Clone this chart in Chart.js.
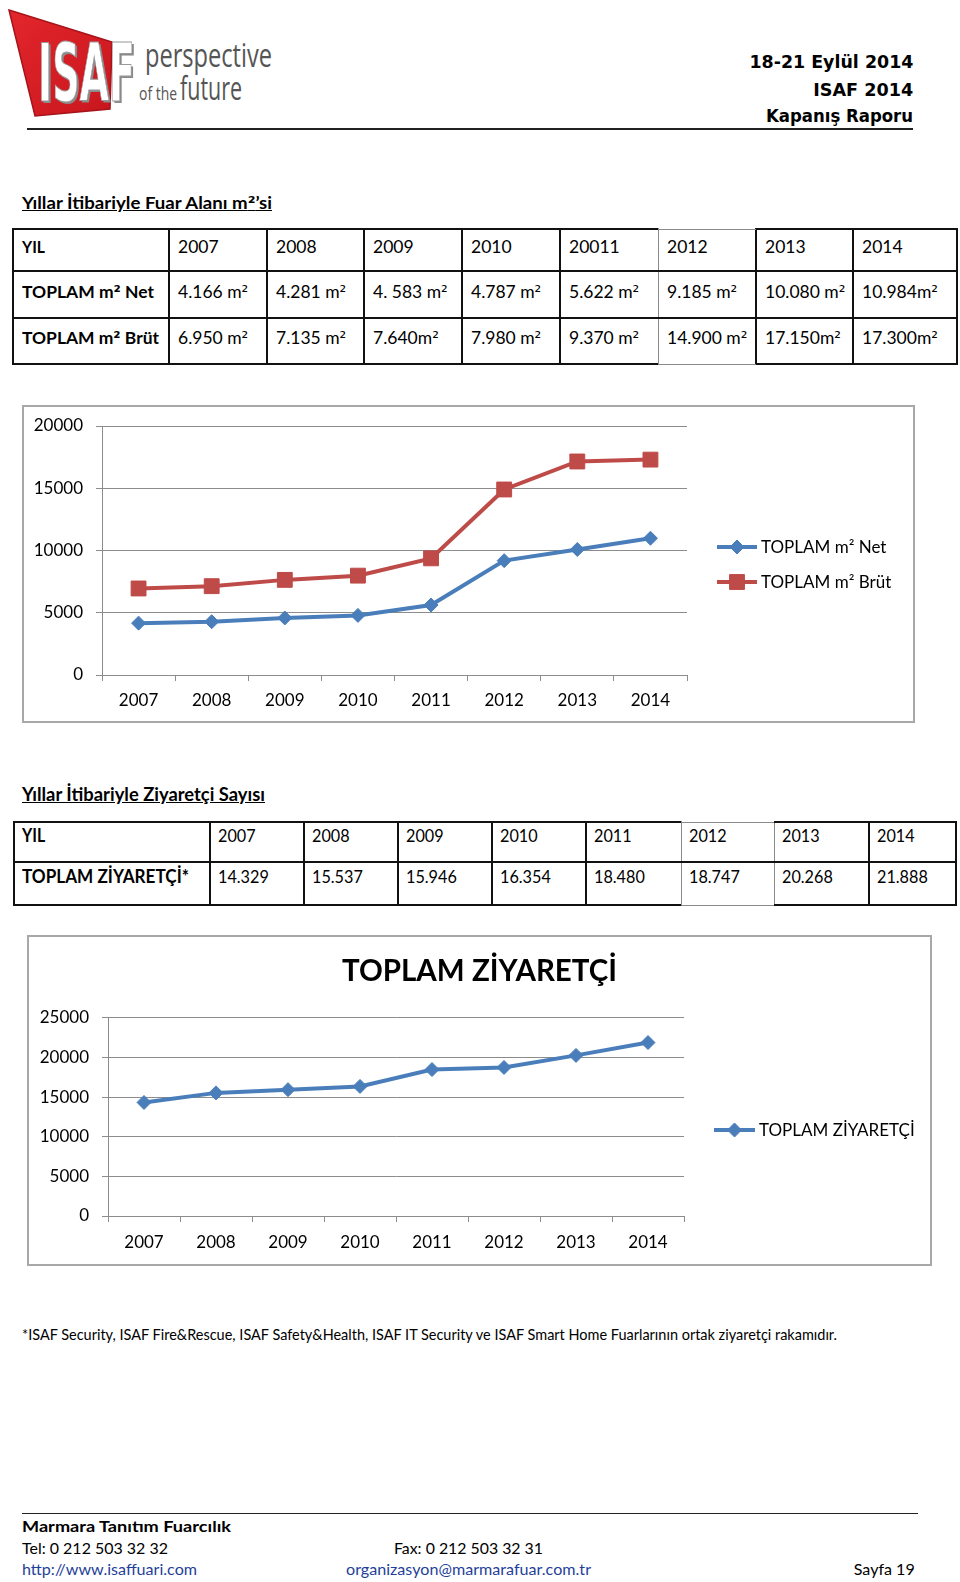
<!DOCTYPE html>
<html><head><meta charset="utf-8">
<script src="https://cdn.jsdelivr.net/npm/chart.js@4.4.0/dist/chart.umd.min.js"></script>
<style>
html,body{margin:0;padding:0;background:#fff;}
body{width:960px;height:1582px;position:relative;overflow:hidden;font-family:Lato,'Open Sans',sans-serif;color:#000;}
.abs{position:absolute;white-space:nowrap;}
.ln{position:absolute;}
.box{position:absolute;border:2px solid #a8a8a8;background:#fff;}
.sup{font-family:'DejaVu Sans';font-size:0.95em;}
canvas{display:block;}
</style></head><body>

<svg class="abs" style="left:0;top:0" width="300" height="135">
  <defs>
    <linearGradient id="rg" x1="0" y1="0" x2="1" y2="1">
      <stop offset="0" stop-color="#e3262c"/><stop offset="1" stop-color="#c8161d"/>
    </linearGradient>
  </defs>
  <polygon points="9,10 112,42 110,109 35,116" fill="url(#rg)" stroke="#a5141a" stroke-width="1.5"/>
  <text x="40" y="103" font-family="DejaVu Sans" font-weight="bold" font-size="81" fill="#8a8a8a" textLength="97" lengthAdjust="spacingAndGlyphs">ISAF</text>
  <text x="38" y="101" font-family="DejaVu Sans" font-weight="bold" font-size="81" fill="#fff" stroke="#9a9a9a" stroke-width="1" textLength="97" lengthAdjust="spacingAndGlyphs">ISAF</text>
  <text x="145" y="67" font-family="Open Sans" font-size="33" fill="#555" textLength="127" lengthAdjust="spacingAndGlyphs">perspective</text>
  <text x="139" y="100" font-family="Open Sans" font-size="19" fill="#555" textLength="38" lengthAdjust="spacingAndGlyphs">of the</text>
  <text x="180" y="100" font-family="Open Sans" font-size="33" fill="#555" textLength="62" lengthAdjust="spacingAndGlyphs">future</text>
</svg>

<div class="box" style="left:22px;top:405px;width:889px;height:314px;"><canvas id="c1" width="889" height="314" style="width:889px;height:314px"></canvas></div>
<div class="box" style="left:27px;top:935px;width:901px;height:327px;"><canvas id="c2" width="901" height="327" style="width:901px;height:327px"></canvas></div>

<script>
// ---------- DATA ----------
const years = ['2007','2008','2009','2010','2011','2012','2013','2014'];
const netArea = [4166, 4281, 4583, 4787, 5622, 9185, 10080, 10984];
const grossArea = [6950, 7135, 7640, 7980, 9370, 14900, 17150, 17300];
const visitors = [14329, 15537, 15946, 16354, 18480, 18747, 20268, 21888];
const areaTicks = [0, 5000, 10000, 15000, 20000];
const visitorTicks = [0, 5000, 10000, 15000, 20000, 25000];

const areaTableYears = ['2007','2008','2009','2010','20011','2012','2013','2014'];
const netAreaText = ['4.166 m²','4.281 m²','4. 583 m²','4.787 m²','5.622 m²','9.185 m²','10.080 m²','10.984m²'];
const grossAreaText = ['6.950 m²','7.135 m²','7.640m²','7.980 m²','9.370 m²','14.900 m²','17.150m²','17.300m²'];
const visitorText = ['14.329','15.537','15.946','16.354','18.480','18.747','20.268','21.888'];

// ---------- helpers ----------
function txt(str, o) {
  const d = document.createElement('div');
  d.className = 'abs';
  if (o.sup && str.indexOf('²') >= 0) {
    str.split('²').forEach((part, i, arr) => {
      d.appendChild(document.createTextNode(part));
      if (i < arr.length - 1) { const s = document.createElement('span'); s.className = 'sup'; s.textContent = '²'; d.appendChild(s); }
    });
  } else d.textContent = str;
  const fs = o.fs;
  const font = o.font || 'Lato';
  d.style.fontSize = fs + 'px';
  d.style.lineHeight = (fs * 1.2) + 'px';
  d.style.fontFamily = font;
  d.style.fontWeight = o.weight || 400;
  d.style.color = o.color || '#000';
  if (o.underline) d.style.textDecoration = 'underline';
  const k = font.indexOf('DejaVu') === 0 ? 0.58 : 0.63;
  d.style.top = (o.cy - k * fs) + 'px';
  d.style.left = '0px';
  document.body.appendChild(d);
  const nat = d.getBoundingClientRect().width;
  const sx = o.w ? o.w / nat : (o.sx || 1);
  if (o.anchor === 'right') {
    d.style.left = (o.x - nat) + 'px';
    d.style.transformOrigin = 'right center';
  } else {
    d.style.left = o.x + 'px';
    d.style.transformOrigin = 'left center';
  }
  if (Math.abs(sx - 1) > 0.001) d.style.transform = 'scaleX(' + sx + ')';
  return d;
}
function line(x, y, w, h, c) {
  const d = document.createElement('div');
  d.className = 'ln';
  d.style.left = x + 'px'; d.style.top = y + 'px';
  d.style.width = w + 'px'; d.style.height = h + 'px';
  d.style.background = c;
  document.body.appendChild(d);
}
function grid(xs, ys, thinV, thinH) {
  const B = '#111', G = '#8a8a8a';
  for (let i = 0; i < xs.length; i++) {
    const thin = thinV.indexOf(i) >= 0;
    line(xs[i] - (thin ? 0.5 : 1), ys[0] - 1, thin ? 1 : 2, ys[ys.length - 1] - ys[0] + 2, thin ? G : B);
  }
  for (let j = 0; j < ys.length; j++) {
    for (let c = 0; c < xs.length - 1; c++) {
      const thin = thinH.some(t => t[0] === j && t[1] === c);
      line(xs[c], ys[j] - (thin ? 0.5 : 1), xs[c + 1] - xs[c], thin ? 1 : 2, thin ? G : B);
    }
  }
}

// ---------- header ----------
txt('18-21 Eylül 2014', {x: 913, cy: 61.5, fs: 18, font: 'DejaVu Sans', weight: 700, anchor: 'right', w: 164});
txt('ISAF 2014', {x: 913, cy: 89, fs: 18, font: 'DejaVu Sans', weight: 700, anchor: 'right', w: 100});
txt('Kapanış Raporu', {x: 913, cy: 115.5, fs: 18, font: 'DejaVu Sans', weight: 700, anchor: 'right', w: 147});
line(27, 127.5, 886, 2, '#222');

// ---------- table 1 ----------
txt('Yıllar İtibariyle Fuar Alanı m²’si', {x: 22, cy: 203, fs: 17.5, weight: 700, underline: true, w: 250, sup: true});
const xs1 = [13, 169, 267, 364, 462, 560, 658, 756, 853, 957];
const ys1 = [229, 271, 318, 364];
grid(xs1, ys1, [6], [[0, 6], [3, 6]]);
const rc1 = [247, 292, 338];
txt('YIL', {x: 22, cy: rc1[0], fs: 17.5, weight: 700, w: 23});
txt('TOPLAM m² Net', {x: 22, cy: rc1[1], fs: 17.5, weight: 700, w: 132, sup: true});
txt('TOPLAM m² Brüt', {x: 22, cy: rc1[2], fs: 17.5, weight: 700, w: 137, sup: true});
for (let c = 0; c < 8; c++) {
  txt(areaTableYears[c], {x: xs1[c + 1] + 9, cy: rc1[0], fs: 17.5});
  txt(netAreaText[c], {x: xs1[c + 1] + 9, cy: rc1[1], fs: 17.5, sup: true});
  txt(grossAreaText[c], {x: xs1[c + 1] + 9, cy: rc1[2], fs: 17.5, sup: true});
}

// ---------- table 2 ----------
txt('Yıllar İtibariyle Ziyaretçi Sayısı', {x: 22, cy: 795, fs: 18, weight: 700, underline: true, w: 243});
const xs2 = [14, 210, 304, 398, 492, 586, 681, 774, 869, 956];
const ys2 = [822, 862, 905];
grid(xs2, ys2, [6, 7], [[0, 6], [2, 6]]);
const rc2 = [836, 877];
txt('YIL', {x: 22, cy: rc2[0], fs: 18, weight: 700, sx: 0.88});
txt('TOPLAM ZİYARETÇİ*', {x: 22, cy: rc2[1], fs: 18, weight: 700, w: 167});
for (let c = 0; c < 8; c++) {
  txt(years[c], {x: xs2[c + 1] + 8, cy: rc2[0], fs: 18, sx: 0.9});
  txt(visitorText[c], {x: xs2[c + 1] + 8, cy: rc2[1], fs: 18, sx: 0.9});
}

// ---------- footnote & footer ----------
txt('*ISAF Security, ISAF Fire&Rescue, ISAF Safety&Health, ISAF IT Security ve ISAF Smart Home Fuarlarının ortak ziyaretçi rakamıdır.', {x: 22, cy: 1334, fs: 15, w: 815});
line(22, 1512.5, 896, 1.5, '#222');
txt('Marmara Tanıtım Fuarcılık', {x: 22, cy: 1526, fs: 16, weight: 700, w: 209});
txt('Tel: 0 212 503 32 32', {x: 22, cy: 1548, fs: 16, w: 146});
txt('Fax: 0 212 503 32 31', {x: 394, cy: 1548, fs: 16, w: 149});
txt('http://www.isaffuari.com', {x: 22, cy: 1569, fs: 16, w: 175, color: '#1f3f9a'});
txt('organizasyon@marmarafuar.com.tr', {x: 346, cy: 1569, fs: 16, w: 245, color: '#1f3f9a'});
txt('Sayfa 19', {x: 915, cy: 1569, fs: 16, anchor: 'right', w: 61});

// ---------- charts ----------
const GRID = '#8c8c8c';
const BLUE = '#4a7ebb';
const RED = '#be4b48';
const tickFont = {family: 'Lato', size: 17};

function drawMarker(ctx, style, r, x, y) {
  ctx.beginPath();
  if (style === 'rect') {
    const s = Math.SQRT1_2 * r;
    ctx.rect(x - s, y - s, 2 * s, 2 * s);
  } else {
    ctx.moveTo(x - r, y); ctx.lineTo(x, y - r); ctx.lineTo(x + r, y); ctx.lineTo(x, y + r); ctx.closePath();
  }
  ctx.fill(); ctx.stroke();
}
const lineLegend = {
  id: 'lineLegend',
  afterDraw(chart, args, o) {
    const ctx = chart.ctx;
    chart.data.datasets.forEach((ds, i) => {
      const y = o.ys[i];
      ctx.save();
      ctx.strokeStyle = ds.borderColor; ctx.lineWidth = ds.borderWidth; ctx.lineCap = 'butt';
      ctx.beginPath(); ctx.moveTo(o.x1, y); ctx.lineTo(o.x2, y); ctx.stroke();
      ctx.fillStyle = ds.pointBackgroundColor; ctx.strokeStyle = ds.pointBorderColor; ctx.lineWidth = ds.pointBorderWidth;
      drawMarker(ctx, ds.pointStyle, ds.pointRadius, (o.x1 + o.x2) / 2, y);
      ctx.fillStyle = '#000';
      ctx.font = o.fontSize + 'px Lato';
      ctx.textBaseline = 'middle';
      ctx.textAlign = 'left';
      ctx.fillText(ds.label, o.tx, y + 1);
      ctx.restore();
    });
  }
};

function series(label, data, color, style, radius) {
  return {
    label, data, borderColor: color, backgroundColor: color, borderWidth: 4, tension: 0, fill: false,
    pointStyle: style, pointRadius: radius, pointHoverRadius: radius,
    pointBackgroundColor: color, pointBorderColor: color, pointBorderWidth: 1
  };
}
function xScale(h, pad) {
  return {
    offset: true,
    grid: {offset: true, drawOnChartArea: false, drawTicks: true, tickLength: 6, color: GRID, tickColor: GRID, lineWidth: 1},
    border: {color: GRID, width: 1},
    ticks: {font: tickFont, color: '#000', padding: pad, maxRotation: 0, autoSkip: false},
    afterFit(s) { s.height = h; s.paddingLeft = 0; s.paddingRight = 0; }
  };
}
function yScale(tickVals, w, pad) {
  return {
    min: tickVals[0], max: tickVals[tickVals.length - 1],
    afterBuildTicks(s) { s.ticks = tickVals.map(v => ({value: v})); },
    ticks: {font: tickFont, color: '#000', padding: pad, callback: v => String(v)},
    grid: {color: GRID, tickColor: GRID, tickLength: 6, lineWidth: 1},
    border: {color: GRID, width: 1},
    afterFit(s) { s.width = w; s.paddingTop = 0; s.paddingBottom = 0; }
  };
}

new Chart(document.getElementById('c1'), {
  type: 'line',
  data: {
    labels: years,
    datasets: [
      series('TOPLAM m² Net', netArea, BLUE, 'rectRot', 7),
      series('TOPLAM m² Brüt', grossArea, RED, 'rect', 10.5)
    ]
  },
  options: {
    responsive: false, animation: false, devicePixelRatio: 1,
    layout: {padding: {top: 19, right: 226, left: 0, bottom: 0}},
    plugins: {
      legend: {display: false}, tooltip: {enabled: false},
      lineLegend: {x1: 693, x2: 733, tx: 737, ys: [140, 175], fontSize: 17}
    },
    scales: {x: xScale(46, 9), y: yScale(areaTicks, 78, 13)}
  },
  plugins: [lineLegend]
});

new Chart(document.getElementById('c2'), {
  type: 'line',
  data: {
    labels: years,
    datasets: [series('TOPLAM ZİYARETÇİ', visitors, BLUE, 'rectRot', 7)]
  },
  options: {
    responsive: false, animation: false, devicePixelRatio: 1,
    layout: {padding: 0},
    plugins: {
      legend: {display: false}, tooltip: {enabled: false},
      title: {display: true, text: 'TOPLAM ZİYARETÇİ', color: '#000', font: {family: 'Lato', size: 29.5, weight: 'bold'}, padding: {top: 17, bottom: 28.5}},
      lineLegend: {x1: 685, x2: 726, tx: 730, ys: [193], fontSize: 17}
    },
    scales: {
      x: xScale(48, 10),
      y: yScale(visitorTicks, 79, 13),
      yR: {type: 'linear', axis: 'y', position: 'right', display: true,
           grid: {display: false}, border: {display: false}, ticks: {display: false},
           afterFit(s) { s.width = 246; s.paddingTop = 0; s.paddingBottom = 0; }}
    }
  },
  plugins: [lineLegend]
});
</script>
</body></html>
